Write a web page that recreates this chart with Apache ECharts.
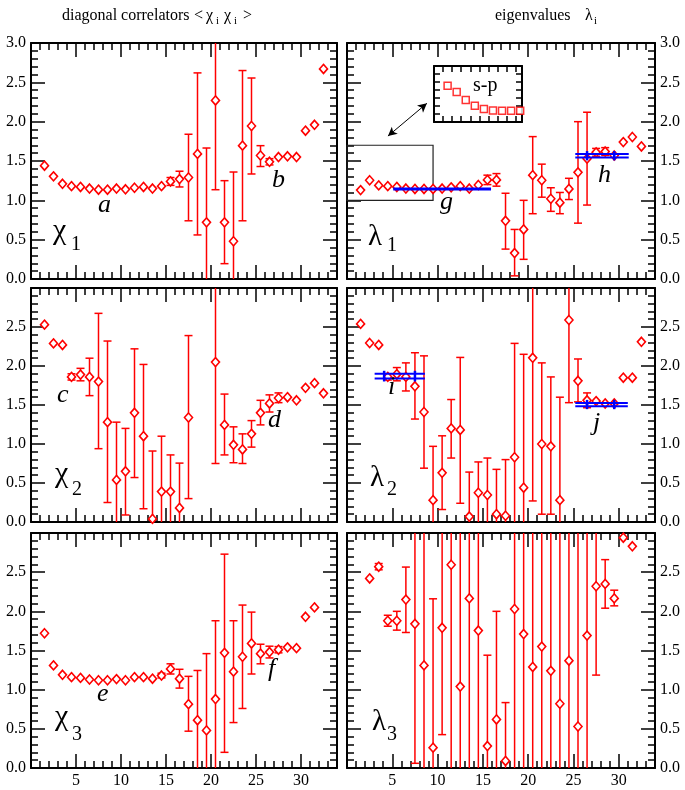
<!DOCTYPE html>
<html><head><meta charset="utf-8">
<script src="https://cdn.jsdelivr.net/npm/echarts@6/dist/echarts.min.js"></script>
<style>html,body{margin:0;padding:0;background:#fff}#c{width:685px;height:790px}</style>
</head><body><div id="c"></div><script>
// ---------- data ----------
const tPos = [1.5,2.5,3.5,4.5,5.5,6.5,7.5,8.5,9.5,10.5,11.5,12.5,13.5,14.5,15.5,16.5,17.5,18.5,19.5,20.5,21.5,22.5,23.5,24.5,25.5,26.5,27.5,28.5,29.5,30.5,31.5,32.5];
const xTicks = [5,10,15,20,25,30];
const yTicks = [0.0,0.5,1.0,1.5,2.0,2.5,3.0];

const chi1V  = [1.44,1.305,1.21,1.18,1.17,1.15,1.135,1.135,1.15,1.14,1.16,1.17,1.15,1.18,1.24,1.27,1.29,1.59,0.72,2.27,0.72,0.48,1.695,1.945,1.57,1.49,1.55,1.56,1.55,1.885,1.96,2.67];
const chi1Lo = [null,null,null,null,null,null,null,null,null,null,null,null,null,null,1.19,1.17,0.74,0.56,-0.22,1.135,0.195,-0.40,0.74,1.335,1.43,1.45,null,null,null,null,null,null];
const chi1Hi = [null,null,null,null,null,null,null,null,null,null,null,null,null,null,1.29,1.37,1.84,2.62,1.665,3.4,1.25,1.36,2.65,2.555,1.695,1.53,null,null,null,null,null,null];

const lam1V  = [1.13,1.255,1.19,1.18,1.17,1.15,1.145,1.145,1.145,1.15,1.165,1.18,1.15,1.195,1.26,1.26,0.74,0.33,0.63,1.32,1.255,1.02,0.97,1.145,1.356,1.53,1.61,1.62,1.57,1.74,1.805,1.685];
const lam1Lo = [null,null,null,null,null,null,null,null,null,null,null,null,null,null,1.20,1.18,0.38,0.04,0.25,0.83,1.04,0.86,0.83,1.01,0.71,0.94,1.56,1.57,null,null,null,null];
const lam1Hi = [null,null,null,null,null,null,null,null,null,null,null,null,null,null,1.32,1.34,1.09,0.63,1.0,1.81,1.46,1.16,1.10,1.28,2.0,2.12,1.66,1.67,null,null,null,null];

const chi2V  = [2.53,2.29,2.27,1.86,1.89,1.86,1.80,1.28,0.54,0.65,1.40,1.10,0.04,0.39,0.39,0.18,1.34,null,null,2.05,1.245,0.99,0.93,1.13,1.40,1.52,1.59,1.60,1.56,1.72,1.78,1.65];
const chi2Lo = [null,null,null,1.82,1.81,1.62,0.94,0.25,-0.2,0.09,0.57,0.17,-0.83,-0.32,-0.08,-0.4,0.30,null,null,0.75,0.86,0.76,0.75,0.96,1.245,1.41,1.53,null,null,null,null,null];
const chi2Hi = [null,null,null,1.90,1.97,2.10,2.675,2.32,1.28,1.20,2.22,2.02,0.91,1.10,0.86,0.755,2.39,null,null,3.35,1.64,1.22,1.13,1.30,1.56,1.63,1.655,null,null,null,null,null];

const lam2V  = [2.54,2.295,2.27,1.86,1.895,1.86,1.74,1.41,0.28,0.63,1.20,1.18,0.07,0.375,0.346,0.10,0.08,0.83,0.44,2.105,1.0,0.97,0.28,2.59,1.81,1.56,1.55,1.52,1.52,1.85,1.85,2.31];
const lam2Lo = [null,null,null,1.82,1.81,1.68,1.32,0.69,-0.4,0.16,0.82,0.24,-0.5,-0.02,-0.13,-0.47,-0.64,-0.63,-1.27,0.27,0.10,0.10,-1.04,1.53,1.54,1.465,null,null,null,null,null,null];
const lam2Hi = [null,null,null,1.90,1.98,2.04,2.17,2.13,0.97,1.105,1.57,2.11,0.64,0.77,0.82,0.675,0.80,2.29,2.15,3.94,2.04,1.86,1.60,3.65,2.09,1.655,null,null,null,null,null,null];

const chi3V  = [1.72,1.31,1.19,1.16,1.15,1.13,1.12,1.12,1.135,1.12,1.16,1.16,1.14,1.18,1.265,1.14,0.815,0.61,0.48,0.88,1.47,1.23,1.42,1.59,1.46,1.48,1.51,1.54,1.53,1.93,2.05,null];
const chi3Lo = [null,null,null,null,null,null,null,null,null,null,null,null,null,1.15,1.20,1.02,0.47,-0.02,-0.5,-0.12,0.20,0.58,0.76,1.20,1.33,1.405,1.47,null,null,null,null,null];
const chi3Hi = [null,null,null,null,null,null,null,null,null,null,null,null,null,1.21,1.33,1.26,1.17,1.245,1.46,1.88,2.73,1.88,2.08,1.99,1.58,1.555,1.55,null,null,null,null,null];

const lam3V  = [null,2.42,2.57,1.88,1.88,2.15,1.84,1.31,0.26,1.79,2.595,1.04,2.165,1.755,0.28,0.62,0.09,2.03,1.71,1.29,1.55,1.24,0.82,1.37,0.53,1.69,2.32,2.35,2.165,2.94,2.83,null];
const lam3Lo = [null,null,2.53,1.81,1.76,1.73,0.06,-1.2,-1.65,0.426,-0.5,-1.5,-1.0,-1.0,-0.88,-0.76,-0.66,-1.0,-1.0,-1.0,-1.0,-1.0,-1.0,-1.0,-1.0,-1.0,1.186,2.04,2.07,null,null,null];
const lam3Hi = [null,null,2.61,1.95,2.0,2.565,3.62,3.8,2.16,3.16,5.0,4.0,5.0,5.0,1.44,2.0,0.835,5.0,5.0,5.0,5.0,5.0,5.0,5.0,5.0,5.0,3.45,2.66,2.27,null,null,null];

// fits: [xStart, xEnd, lower, upper], marks: x positions of vertical bars
const fitG = [5.1, 15.9, 1.144, 1.144]; const fitGMarks = [];
const fitH = [25.2, 31.1, 1.546, 1.588]; const fitHMarks = [26.5, 29.5];
const fitI = [3.05, 8.6, 1.84, 1.90];    const fitIMarks = [4.1, 7.5];
const fitJ = [25.2, 31.0, 1.485, 1.527]; const fitJMarks = [26.5, 29.5];

// zoom box in lambda_1 panel [x0, x1, y0, y1] and arrow [x0,y0,x1,y1]
const boxSP = [0, 9.5, 1.0, 1.7];
const arrowSP = [4.52, 1.817, 8.82, 2.233];
// inset s-p data
const insetX = [1.5,2.5,3.5,4.5,5.5,6.5,7.5,8.5,9.5];
const insetV = [1.454,1.374,1.276,1.203,1.161,1.145,1.14,1.14,1.142];

// ---------- chart ----------
const FONT = '"Liberation Serif","Times New Roman",serif';
const RED = '#ff0000', BLUE = '#0000ff', AX = '#000';
const grids = [
  {left:31, top:43, width:306, height:236},
  {left:347, top:43, width:308, height:236},
  {left:31, top:288, width:306, height:234},
  {left:347, top:288, width:308, height:234},
  {left:31, top:533, width:306, height:235},
  {left:347, top:533, width:308, height:235},
  {left:434, top:66, width:88, height:56}
].map(g => Object.assign({containLabel:false, outerBoundsMode:'none'}, g));

const xAxis = [], yAxis = [], series = [];

function mkX(gi, pos, major, labels){
  return {type:'value', gridIndex:gi, position:pos, min:0, max:34, interval: major?5:1,
    axisLine:{show:major, onZero:false, lineStyle:{color:AX, width:2}},
    axisTick:{show:true, inside:true, length: major?14:7, lineStyle:{color:AX, width:1.5}},
    axisLabel:{show:labels, margin:5, color:'#000', fontFamily:FONT, fontSize:16,
      formatter: v => xTicks.indexOf(v) >= 0 ? String(v) : ''},
    splitLine:{show:false}};
}
function mkY(gi, pos, labels, hideTop){
  return {type:'value', gridIndex:gi, position:pos, min:0, max:3, interval:0.5,
    axisLine:{show:true, onZero:false, lineStyle:{color:AX, width:2}},
    axisTick:{show:true, inside:true, length:14, lineStyle:{color:AX, width:1.5}},
    minorTick:{show:true, splitNumber:5, length:7, lineStyle:{color:AX, width:1.5}},
    axisLabel:{show:labels, margin:5, color:'#000', fontFamily:FONT, fontSize:16,
      showMinLabel:true, showMaxLabel:true,
      formatter: v => { const t = yTicks.find(k => Math.abs(k - v) < 1e-6);
        if (t === undefined) return ''; if (hideTop && t === 3) return ''; return t.toFixed(1); }},
    splitLine:{show:false}, minorSplitLine:{show:false}};
}

function errRender(params, api){
  const x = api.value(0), lo = api.value(1), hi = api.value(2);
  const cs = params.coordSys;
  const top = cs.y, bot = cs.y + cs.height;
  const pLo = api.coord([x, lo]), pHi = api.coord([x, hi]);
  const px = pLo[0];
  const y1 = Math.max(top, Math.min(bot, pHi[1]));
  const y2 = Math.max(top, Math.min(bot, pLo[1]));
  const st = {stroke:RED, lineWidth:1.5};
  const ch = [{type:'line', shape:{x1:px, y1:y1, x2:px, y2:y2}, style:st}];
  const hw = 4;
  if (pHi[1] >= top && pHi[1] <= bot) ch.push({type:'line', shape:{x1:px-hw, y1:pHi[1], x2:px+hw, y2:pHi[1]}, style:st});
  if (pLo[1] >= top && pLo[1] <= bot) ch.push({type:'line', shape:{x1:px-hw, y1:pLo[1], x2:px+hw, y2:pLo[1]}, style:st});
  return {type:'group', children:ch};
}

function panel(gi, V, Lo, Hi, col, row){
  const xi = xAxis.length, yi = yAxis.length;
  xAxis.push(mkX(gi,'bottom',true,row===2), mkX(gi,'bottom',false,false), mkX(gi,'top',true,false), mkX(gi,'top',false,false));
  yAxis.push(mkY(gi,'left',col===0,row>0), mkY(gi,'right',col===1,row>0));
  const eb = [];
  for (let i=0;i<V.length;i++) if (V[i]!==null && Lo[i]!==null) eb.push([tPos[i], Lo[i], Hi[i]]);
  series.push({type:'custom', xAxisIndex:xi, yAxisIndex:yi, renderItem:errRender, data:eb, z:2, silent:true});
  const pts = [];
  for (let i=0;i<V.length;i++) if (V[i]!==null) pts.push([tPos[i], V[i]]);
  series.push({type:'scatter', xAxisIndex:xi, yAxisIndex:yi, data:pts, symbol:'diamond', symbolSize:[8,9],
    itemStyle:{color:'#fff', borderColor:RED, borderWidth:1.6, opacity:1}, z:3, silent:true, clip:true});
  return {xi, yi};
}

function fitSeries(ax, fit, marks, single){
  series.push({type:'custom', xAxisIndex:ax.xi, yAxisIndex:ax.yi, z:4, silent:true, data:[[fit[0], fit[1], fit[2], fit[3]]],
    renderItem:(params, api) => {
      const x0 = api.value(0), x1 = api.value(1), lo = api.value(2), hi = api.value(3);
      const ch = [];
      if (single){
        const a = api.coord([x0, lo]), b = api.coord([x1, lo]);
        ch.push({type:'line', shape:{x1:a[0], y1:a[1], x2:b[0], y2:b[1]}, style:{stroke:BLUE, lineWidth:3}});
      } else {
        [lo, hi].forEach(v => { const a = api.coord([x0, v]), b = api.coord([x1, v]);
          ch.push({type:'line', shape:{x1:a[0], y1:a[1], x2:b[0], y2:b[1]}, style:{stroke:BLUE, lineWidth:2}}); });
        marks.forEach(m => { const a = api.coord([m, hi]), b = api.coord([m, lo]);
          ch.push({type:'line', shape:{x1:a[0], y1:a[1]-3, x2:b[0], y2:b[1]+3}, style:{stroke:BLUE, lineWidth:2.5}}); });
      }
      return {type:'group', children:ch};
    }});
}

const a0 = panel(0, chi1V, chi1Lo, chi1Hi, 0, 0);
const a1 = panel(1, lam1V, lam1Lo, lam1Hi, 1, 0);
const a2 = panel(2, chi2V, chi2Lo, chi2Hi, 0, 1);
const a3 = panel(3, lam2V, lam2Lo, lam2Hi, 1, 1);
const a4 = panel(4, chi3V, chi3Lo, chi3Hi, 0, 2);
const a5 = panel(5, lam3V, lam3Lo, lam3Hi, 1, 2);

fitSeries(a1, fitG, fitGMarks, true);
fitSeries(a1, fitH, fitHMarks, false);
fitSeries(a3, fitI, fitIMarks, false);
fitSeries(a3, fitJ, fitJMarks, false);

// zoom box + arrow in lambda_1 panel
series.push({type:'custom', xAxisIndex:a1.xi, yAxisIndex:a1.yi, z:1, silent:true, data:[boxSP],
  renderItem:(params, api) => {
    const p0 = api.coord([api.value(0), api.value(3)]), p1 = api.coord([api.value(1), api.value(2)]);
    return {type:'rect', shape:{x:p0[0], y:p0[1], width:p1[0]-p0[0], height:p1[1]-p0[1]},
      style:{fill:'none', stroke:'#222', lineWidth:1.2}};
  }});
series.push({type:'line', xAxisIndex:a1.xi, yAxisIndex:a1.yi, data:[], silent:true,
  markLine:{silent:true, symbol:['arrow','arrow'], symbolSize:[7,9], animation:false,
    lineStyle:{color:'#000', width:1, type:'solid'}, label:{show:false}, emphasis:{disabled:true},
    data:[[{coord:[arrowSP[0], arrowSP[1]]},{coord:[arrowSP[2], arrowSP[3]]}]]}});

// inset
const ixi = xAxis.length, iyi = yAxis.length;
function mkIX(pos){ return {type:'value', gridIndex:6, position:pos, min:0, max:9.7, interval:1,
  axisLine:{show:true, onZero:false, lineStyle:{color:AX, width:2}},
  axisTick:{show:true, inside:true, length:6, lineStyle:{color:AX, width:1.5}},
  axisLabel:{show:false}, splitLine:{show:false}}; }
function mkIY(pos){ return {type:'value', gridIndex:6, position:pos, min:1.0, max:1.7, interval:0.1,
  axisLine:{show:true, onZero:false, lineStyle:{color:AX, width:2}},
  axisTick:{show:true, inside:true, length:6, lineStyle:{color:AX, width:1.5}},
  axisLabel:{show:false}, splitLine:{show:false}}; }
xAxis.push(mkIX('bottom'), mkIX('top'));
yAxis.push(mkIY('left'), mkIY('right'));
series.push({type:'scatter', xAxisIndex:ixi, yAxisIndex:iyi, data:insetX.map((x,i)=>[x, insetV[i]]),
  symbol:'rect', symbolSize:7, itemStyle:{color:'#fff', borderColor:RED, borderWidth:1.5}, silent:true, z:5});

// ---------- text ----------
function T(x, y, s, size, opt){
  opt = opt || {};
  return {type:'text', x:x, y:y, z:100, silent:true,
    style:{text:s, fill:'#000', font:(opt.italic?'italic ':'') + size + 'px ' + FONT,
      textAlign:'left', align:'left', textVerticalAlign:'middle', verticalAlign:'middle'}};
}
const graphic = [
  T(62,16,'diagonal correlators',16), T(194,16,'<',16), T(206,16,'χ',16), T(216,21,'i',11),
  T(224,16,'χ',16), T(234,21,'i',11), T(243,16,'>',16),
  T(495,16,'eigenvalues',16), T(585,16,'λ',16), T(594,21,'i',11),
  T(53,231,'χ',30), T(71,245,'1',20), T(98,205,'a',26,{italic:true}), T(272,180,'b',26,{italic:true}),
  T(368,237,'λ',29), T(387,246,'1',20), T(440,202,'g',26,{italic:true}), T(598,175,'h',26,{italic:true}),
  T(55,474,'χ',30), T(72,490,'2',20), T(57,395,'c',26,{italic:true}), T(268,420,'d',26,{italic:true}),
  T(370,478,'λ',29), T(387,490,'2',20), T(388,387,'i',26,{italic:true}), T(593,423,'j',26,{italic:true}),
  T(55,717,'χ',30), T(72,735,'3',20), T(97,694,'e',26,{italic:true}), T(268,669,'f',26,{italic:true}),
  T(372,722,'λ',29), T(387,735,'3',20),
  T(473,86,'s-p',20)
];

const chart = echarts.init(document.getElementById('c'), null, {renderer:'canvas'});
chart.setOption({animation:false, backgroundColor:'#fff', grid:grids, xAxis:xAxis, yAxis:yAxis, series:series, graphic:graphic});
</script></body></html>
